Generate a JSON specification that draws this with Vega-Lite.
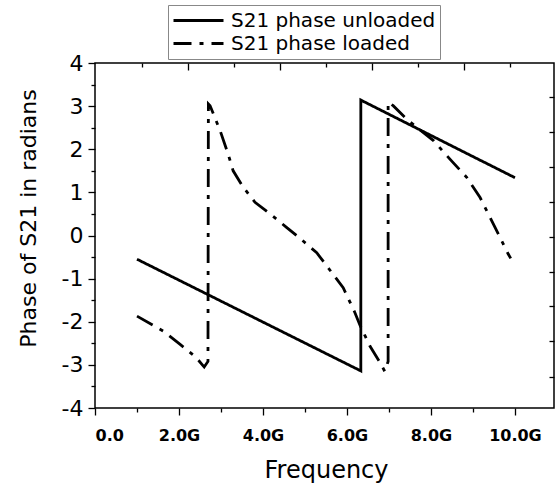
{
  "$schema": "https://vega.github.io/schema/vega-lite/v6.json",
  "width": 459,
  "height": 345,
  "autosize": {"type": "none"},
  "padding": {"left": 95, "top": 63, "right": 1, "bottom": 81},
  "background": "white",
  "config": {
    "view": {"stroke": "black", "strokeWidth": 1.5},
    "font": "DejaVu Sans",
    "axis": {"labelColor": "black", "tickColor": "black", "titleColor": "black", "tickWidth": 1.3, "grid": false, "domain": false, "labelFont": "DejaVu Sans", "titleFont": "DejaVu Sans"}
  },
  "data": {"values": [
    {"series": "S21 phase unloaded", "order": 1, "x": 1.0, "y": -0.55},
    {"series": "S21 phase unloaded", "order": 2, "x": 6.33, "y": -3.14},
    {"series": "S21 phase unloaded", "order": 3, "x": 6.33, "y": 3.14},
    {"series": "S21 phase unloaded", "order": 4, "x": 10.0, "y": 1.34},
    {"series": "S21 phase loaded", "order": 1, "x": 1.0, "y": -1.87},
    {"series": "S21 phase loaded", "order": 2, "x": 1.63, "y": -2.22},
    {"series": "S21 phase loaded", "order": 3, "x": 2.02, "y": -2.52},
    {"series": "S21 phase loaded", "order": 4, "x": 2.4, "y": -2.82},
    {"series": "S21 phase loaded", "order": 5, "x": 2.6, "y": -3.05},
    {"series": "S21 phase loaded", "order": 6, "x": 2.69, "y": -2.92},
    {"series": "S21 phase loaded", "order": 7, "x": 2.7, "y": 3.05},
    {"series": "S21 phase loaded", "order": 8, "x": 2.74, "y": 3.01},
    {"series": "S21 phase loaded", "order": 9, "x": 2.98, "y": 2.43},
    {"series": "S21 phase loaded", "order": 10, "x": 3.17, "y": 1.89},
    {"series": "S21 phase loaded", "order": 11, "x": 3.29, "y": 1.5},
    {"series": "S21 phase loaded", "order": 12, "x": 3.53, "y": 1.12},
    {"series": "S21 phase loaded", "order": 13, "x": 3.81, "y": 0.77},
    {"series": "S21 phase loaded", "order": 14, "x": 4.17, "y": 0.5},
    {"series": "S21 phase loaded", "order": 15, "x": 4.56, "y": 0.19},
    {"series": "S21 phase loaded", "order": 16, "x": 4.84, "y": -0.03},
    {"series": "S21 phase loaded", "order": 17, "x": 5.28, "y": -0.4},
    {"series": "S21 phase loaded", "order": 18, "x": 5.67, "y": -0.9},
    {"series": "S21 phase loaded", "order": 19, "x": 5.91, "y": -1.21},
    {"series": "S21 phase loaded", "order": 20, "x": 6.19, "y": -1.79},
    {"series": "S21 phase loaded", "order": 21, "x": 6.31, "y": -2.08},
    {"series": "S21 phase loaded", "order": 22, "x": 6.55, "y": -2.57},
    {"series": "S21 phase loaded", "order": 23, "x": 6.79, "y": -2.95},
    {"series": "S21 phase loaded", "order": 24, "x": 6.9, "y": -3.15},
    {"series": "S21 phase loaded", "order": 25, "x": 6.98, "y": -2.92},
    {"series": "S21 phase loaded", "order": 26, "x": 6.98, "y": 3.09},
    {"series": "S21 phase loaded", "order": 27, "x": 7.1, "y": 3.01},
    {"series": "S21 phase loaded", "order": 28, "x": 7.42, "y": 2.7},
    {"series": "S21 phase loaded", "order": 29, "x": 8.06, "y": 2.2},
    {"series": "S21 phase loaded", "order": 30, "x": 8.49, "y": 1.73},
    {"series": "S21 phase loaded", "order": 31, "x": 8.85, "y": 1.35},
    {"series": "S21 phase loaded", "order": 32, "x": 9.17, "y": 0.88},
    {"series": "S21 phase loaded", "order": 33, "x": 9.49, "y": 0.26},
    {"series": "S21 phase loaded", "order": 34, "x": 9.84, "y": -0.43},
    {"series": "S21 phase loaded", "order": 35, "x": 9.9, "y": -0.53}
  ]},
  "resolve": {"axis": {"x": "independent", "y": "independent"}},
  "layer": [
    {
      "mark": {"type": "line", "color": "black", "strokeWidth": 2.8},
      "encoding": {
        "x": {"field": "x", "type": "quantitative", "scale": {"domain": [0, 10.93], "nice": false, "zero": false},
          "axis": {"orient": "bottom", "values": [0, 2, 4, 6, 8, 10], "labelExpr": "datum.value == 0 ? '0.0' : format(datum.value, '.1f') + 'G'", "labelFontSize": 16, "labelFontWeight": "bold", "tickSize": 7, "labelPadding": 12, "title": "Frequency", "titleFontSize": 24, "titleFontWeight": "normal", "titleX": 231, "titleY": 69, "titleBaseline": "alphabetic"}},
        "y": {"field": "y", "type": "quantitative", "scale": {"domain": [-4, 4], "nice": false, "zero": false},
          "axis": {"orient": "left", "values": [-4, -3, -2, -1, 0, 1, 2, 3, 4], "labelExpr": "(datum.value < 0 ? '-' : '') + abs(datum.value)", "labelFontSize": 22, "tickSize": 7, "labelPadding": 5, "title": "Phase of S21 in radians", "titleFontSize": 22, "titleFontWeight": "normal", "titleAngle": -90, "titleX": -60, "titleY": 155, "titleBaseline": "alphabetic"}},
        "strokeDash": {"field": "series", "type": "nominal",
          "scale": {"domain": ["S21 phase unloaded", "S21 phase loaded"], "range": [[1, 0], [18, 8, 4, 8]]},
          "legend": {"orient": "none", "legendX": 73, "legendY": -58, "title": null, "symbolType": "stroke", "symbolSize": 2500, "symbolStrokeWidth": 3, "symbolStrokeColor": "black", "labelFontSize": 20, "labelFont": "DejaVu Sans", "labelColor": "black", "labelOffset": 6, "labelLimit": 400, "clipHeight": 23, "rowPadding": 0, "padding": 4, "strokeColor": "#888888", "fillColor": "white"}},
        "order": {"field": "order", "type": "quantitative"}
      }
    },
    {
      "mark": {"type": "point", "opacity": 0},
      "encoding": {
        "x": {"field": "x", "type": "quantitative", "scale": {"domain": [0, 10.93], "nice": false, "zero": false},
          "axis": {"orient": "bottom", "values": [1, 3, 5, 7, 9], "labels": false, "tickSize": 4, "title": null}},
        "y": {"field": "y", "type": "quantitative", "scale": {"domain": [-4, 4], "nice": false, "zero": false},
          "axis": {"orient": "left", "values": [-3.5, -2.5, -1.5, -0.5, 0.5, 1.5, 2.5, 3.5], "labels": false, "tickSize": 4, "title": null}}
      }
    },
    {
      "mark": {"type": "point", "opacity": 0},
      "encoding": {
        "x": {"field": "x", "type": "quantitative", "scale": {"domain": [0, 10.93], "nice": false, "zero": false},
          "axis": {"orient": "top", "values": [2.21, 4.4, 6.59, 8.78], "labels": false, "tickSize": -7, "title": null}},
        "y": {"field": "y", "type": "quantitative", "scale": {"domain": [-4, 4], "nice": false, "zero": false},
          "axis": {"orient": "right", "values": [3.21, 2.4, 1.58, 0.78, -0.03, -0.84, -1.64, -2.45, -3.27], "labels": false, "tickSize": -5, "title": null}}
      }
    },
    {
      "mark": {"type": "point", "opacity": 0},
      "encoding": {
        "x": {"field": "x", "type": "quantitative", "scale": {"domain": [0, 10.93], "nice": false, "zero": false},
          "axis": {"orient": "top", "values": [1.12, 3.31, 5.5, 7.69, 9.88], "labels": false, "tickSize": -4, "title": null}},
        "y": {"field": "y", "type": "quantitative", "scale": {"domain": [-4, 4], "nice": false, "zero": false}, "axis": null}
      }
    }
  ]
}
